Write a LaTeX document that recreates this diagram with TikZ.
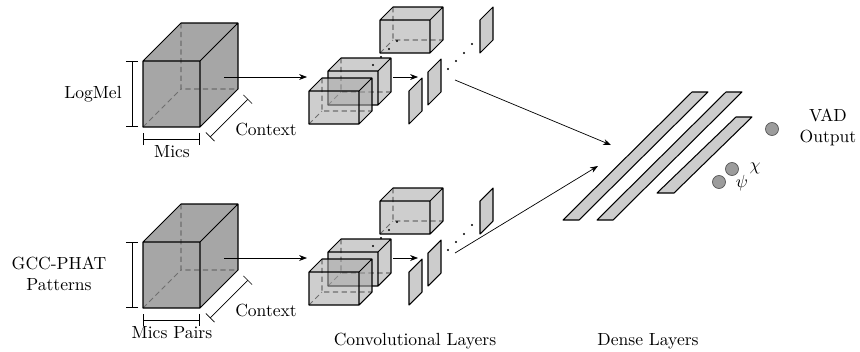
\documentclass[tikz,border=0pt]{standalone}
\usepackage{amsmath}
\usetikzlibrary{positioning, arrows.meta, calc}
\definecolor{cubeGray}{HTML}{A6A6A6}
\definecolor{sheetGray}{HTML}{CCCCCC}
\definecolor{unitGray}{HTML}{9C9C9C}
\definecolor{hideGray}{HTML}{6E6E6E}

% cuboid: front top-left (#1,#2), width #3, height #4, depth #5, fill style #6
\newcommand{\drawblock}[6]{%
  \fill[#6] (#1,#2+#4) -- (#1,#2) -- (#1+#5,#2-#5) -- (#1+#3+#5,#2-#5)
    -- (#1+#3+#5,#2+#4-#5) -- (#1+#3,#2+#4) -- cycle;
  \draw[backline] (#1+#5,#2-#5) -- (#1+#5,#2+#4-#5) -- (#1+#3+#5,#2+#4-#5)
    (#1,#2+#4) -- (#1+#5,#2+#4-#5);
  \draw[frontline] (#1,#2) rectangle (#1+#3,#2+#4)
    (#1,#2) -- (#1+#5,#2-#5) -- (#1+#3+#5,#2-#5) -- (#1+#3,#2)
    (#1+#3+#5,#2-#5) -- (#1+#3+#5,#2+#4-#5) -- (#1+#3,#2+#4);
}

\begin{document}
\begin{tikzpicture}[x=0.02cm, y=-0.02cm,
  frontline/.style={draw=black, semithick, line join=round},
  backline/.style={draw=hideGray, semithick, dash pattern=on 3pt off 2pt},
  solidcube/.style={fill=cubeGray},
  convcube/.style={fill=cubeGray, fill opacity=0.55},
  sheet/.style={draw=black, semithick, fill=sheetGray, line join=round},
  unit/.style={circle, draw=black!65, fill=unitGray, minimum size=0.26cm, inner sep=0pt},
  dimline/.style={{Bar[width=7pt]}-{Bar[width=7pt]}, thin},
  arr/.style={-{Stealth[length=4.5pt]}, thin},
  lbl/.style={align=center}
]
\useasboundingbox (0,0) rectangle (860,352);

% two input branches
\foreach \dy/\br in {0/a, 181/b}{
  \begin{scope}[shift={(0,\dy)}]
    \drawblock{143}{61}{57}{66}{38}{solidcube}
    \drawblock{380}{20}{50}{33}{13}{convcube}
    \drawblock{328}{71}{50}{34}{13}{convcube}
    \drawblock{309}{91}{50}{33}{13}{convcube}
    % feature maps
    \draw[sheet] (409,124) -- (409,91) -- (422,78) -- (422,111) -- cycle;
    \draw[sheet] (428,105) -- (428,72) -- (441,59) -- (441,92) -- cycle;
    \draw[sheet] (480,53) -- (480,20) -- (493,7) -- (493,40) -- cycle;
    \foreach \px/\py in {373/65, 381/57, 389/49, 397/41, 448/69, 456/61, 464/53, 472/44}
      \fill (\px,\py) circle (0.7pt);
    \coordinate (cubeOut\br) at (224,77);
    \coordinate (convIn\br) at (307,77);
    \coordinate (convOut\br) at (393,77);
    \coordinate (mapIn\br) at (418,77);
    \draw[arr] (cubeOut\br) -- (convIn\br);
    \draw[arr] (convOut\br) -- (mapIn\br);
    % size brackets
    \coordinate (hTop\br) at (132,61);
    \coordinate (hBot\br) at (132,127);
    \coordinate (wLeft\br) at (143,139);
    \coordinate (wRight\br) at (200,139);
    \coordinate (dNear\br) at (210,137);
    \coordinate (dFar\br) at (248,99);
    \draw[dimline] (hTop\br) -- (hBot\br);
    \draw[dimline] (wLeft\br) -- (wRight\br);
    \draw[dimline] (dNear\br) -- (dFar\br);
  \end{scope}
}

\node[lbl] (logmel) at (93,94) {LogMel};
\node[lbl] (mics) at (172,152) {Mics};
\node[lbl] (ctxA) at (266,129) {Context};
\node[lbl] (gcc) at (59,274) {GCC-PHAT\\Patterns};
\node[lbl] (pairs) at (172,333) {Mics Pairs};
\node[lbl] (ctxB) at (266,310) {Context};

% dense part
\draw[sheet] (563,220) -- (579,220) -- (708,92) -- (692,92) -- cycle;
\draw[sheet] (597,220) -- (613,220) -- (742,92) -- (726,92) -- cycle;
\draw[sheet] (657,193) -- (674,193) -- (752,117) -- (736,117) -- cycle;

\coordinate (featA) at (455,80);
\coordinate (denseInA) at (611,145);
\coordinate (featB) at (455,253);
\coordinate (denseInB) at (598,166);
\draw[arr] (featA) -- (denseInA);
\draw[arr] (featB) -- (denseInB);

\node[unit] (vadUnit) at (772,129) {};
\node[unit] (chiUnit) at (732,169) {};
\node[unit] (psiUnit) at (719,182) {};
\node (chiLbl) at (755,168) {$\chi$};
\node (psiLbl) at (742,183) {$\psi$};
\node[lbl] (vad) at (828,127) {VAD\\Output};

\node[lbl] (convLbl) at (415,341) {Convolutional Layers};
\node[lbl] (denseLbl) at (648,341) {Dense Layers};
\end{tikzpicture}
\end{document}
